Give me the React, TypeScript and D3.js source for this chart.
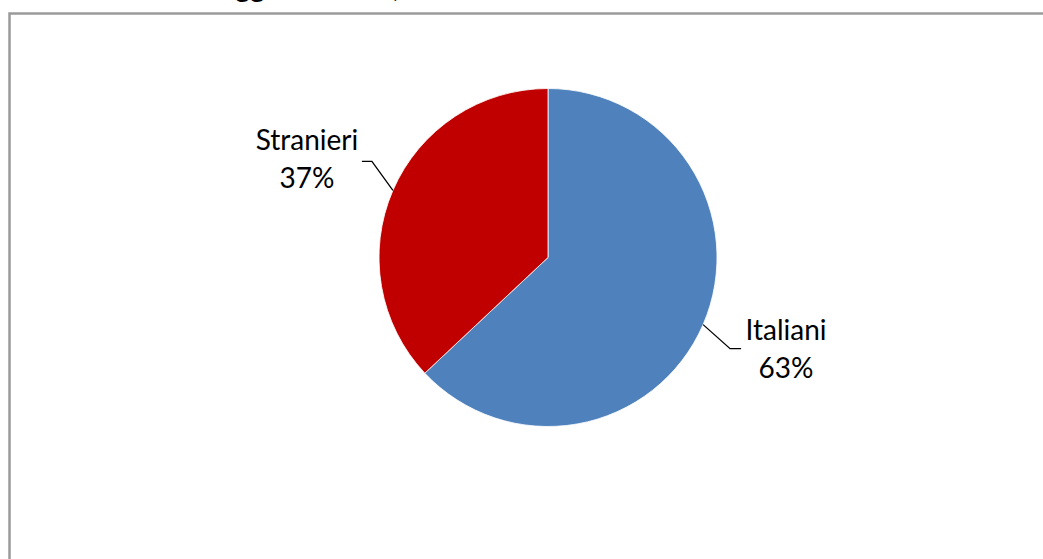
import React from "react";
import * as d3 from "d3";

const categories = ["Italiani", "Stranieri"];
const values = [63, 37];
const colors = ["#4F81BD", "#C00000"];
const titleText = "Soggiorni totali, Italiani e Stranieri";

const W = 1043;
const H = 559;
const cx = 548;
const cy = 257.5;
const R = 169;

// label layout: [elbow offset from arc point, horizontal end offset, text anchor pos]
const labelLayout = [
  { elbow: [27, 24], tail: 11, text: [786, 340] },
  { elbow: [-21, -29], tail: -10, text: [307, 150] },
];

export default function App() {
  const pie = d3.pie<number>().sort(null).value((d) => d);
  const arcs = pie(values);
  const arc = d3.arc<d3.PieArcDatum<number>>().innerRadius(0).outerRadius(R);
  const total = d3.sum(values);

  return (
    <svg
      width={W}
      height={H}
      style={{ position: "absolute", left: 0, top: 0, background: "#fff" }}
      fontFamily="Lato, 'Open Sans', sans-serif"
    >
      <rect x={0} y={0} width={W} height={H} fill="#fff" />
      <text x={204} y={-3} fontSize={28} fontWeight="bold" fill="#000">
        {titleText}
      </text>
      <rect
        x={9.5}
        y={13.5}
        width={W + 20}
        height={H + 20}
        fill="none"
        stroke="#9a9a9a"
        strokeWidth={2.5}
      />
      <g transform={`translate(${cx},${cy})`}>
        {arcs.map((a, i) => (
          <path key={i} d={arc(a) || ""} fill={colors[i]} stroke="#fff" strokeWidth={0.8} />
        ))}
      </g>
      {arcs.map((a, i) => {
        const mid = (a.startAngle + a.endAngle) / 2;
        const px = cx + R * Math.sin(mid);
        const py = cy - R * Math.cos(mid);
        const L = labelLayout[i];
        const ex = px + L.elbow[0];
        const ey = py + L.elbow[1];
        const tx = ex + L.tail;
        const pct = Math.round((values[i] / total) * 100);
        return (
          <g key={i}>
            <polyline
              points={`${px},${py} ${ex},${ey} ${tx},${ey}`}
              fill="none"
              stroke="#000"
              strokeWidth={1.3}
            />
            <text
              x={L.text[0]}
              y={L.text[1]}
              textAnchor="middle"
              fontSize={28}
              fill="#000"
            >
              {categories[i]}
            </text>
            <text
              x={L.text[0]}
              y={L.text[1] + 38}
              textAnchor="middle"
              fontSize={28}
              fill="#000"
            >
              {pct}%
            </text>
          </g>
        );
      })}
    </svg>
  );
}
